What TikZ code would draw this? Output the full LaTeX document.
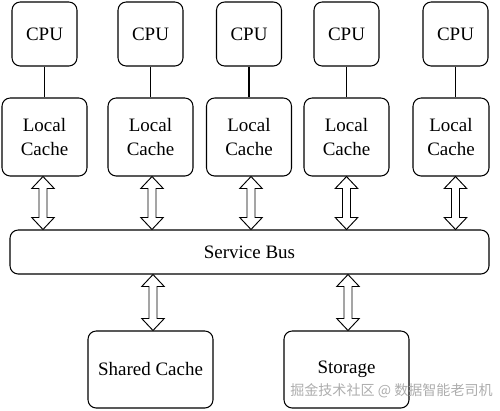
\documentclass[tikz,border=0pt]{standalone}
\usepackage{fontspec}
\setmainfont{Liberation Serif}
\newfontfamily\cjkfont{Noto Sans CJK SC}
\usetikzlibrary{positioning,calc}

\begin{document}
\begin{tikzpicture}[
    x=0.03cm, y=-0.03cm,
    box/.style={draw, line width=0.9pt, rounded corners=7pt, align=center,
                font=\rmfamily\fontsize{16.2}{19.8}\selectfont, inner sep=0pt},
    cpubox/.style={box, minimum width=65*0.03cm, minimum height=64*0.03cm},
    cachebox/.style={box, minimum width=85*0.03cm, minimum height=78*0.03cm},
    link/.style={line width=1pt},
    dblarrow/.style={line width=0.8pt, fill=white, to path={
        let \p1=(\tikztostart), \p2=(\tikztotarget) in
        (\x1,\y1) -- (\x1+9.6pt,\y1-10.2pt) -- (\x1+3.4pt,\y1-10.2pt)
        -- (\x1+3.4pt,\y2+10.2pt) -- (\x1+9.6pt,\y2+10.2pt) -- (\x1,\y2)
        -- (\x1-9.6pt,\y2+10.2pt) -- (\x1-3.4pt,\y2+10.2pt)
        -- (\x1-3.4pt,\y1-10.2pt) -- (\x1-9.6pt,\y1-10.2pt) -- cycle}},
]
\useasboundingbox (0,0) rectangle (500,410);

% CPUs
\node[cpubox] (cpu1) at (44.5,34) {CPU};
\node[cpubox] (cpu2) at (150.5,34) {CPU};
\node[cpubox] (cpu3) at (249,34) {CPU};
\node[cpubox] (cpu4) at (346.5,34) {CPU};
\node[cpubox] (cpu5) at (455.5,34) {CPU};

% Local caches
\node[cachebox] (lc1) at (44.5,137) {Local\\Cache};
\node[cachebox] (lc2) at (150.5,137) {Local\\Cache};
\node[cachebox] (lc3) at (249,137) {Local\\Cache};
\node[cachebox] (lc4) at (346.5,137) {Local\\Cache};
\node[cachebox, minimum width=76*0.03cm] (lc5) at (451,137) {Local\\Cache};

% Bus and shared resources
\node[box, minimum width=479*0.03cm, minimum height=44*0.03cm] (bus) at (249.5,252) {Service Bus};
\node[box, minimum width=125*0.03cm, minimum height=77*0.03cm] (shared) at (150.5,369.5) {Shared Cache};
\node[box, minimum width=125*0.03cm, minimum height=77*0.03cm] (storage) at (346.5,369.5) {Storage};

% CPU -- cache links
\draw[link] (cpu1.south) -- (cpu1.south |- lc1.north);
\draw[link] (cpu2.south) -- (cpu2.south |- lc2.north);
\draw[link] (cpu3.south) -- (cpu3.south |- lc3.north);
\draw[link] (cpu4.south) -- (cpu4.south |- lc4.north);
\draw[link] (cpu5.south) -- (cpu5.south |- lc5.north);

% Cache <-> bus
\draw[dblarrow] ($(cpu1.south |- lc1.south)+(-1.5,0)$) to ($(cpu1.south |- bus.north)+(-1.5,0)$);
\draw[dblarrow] ($(cpu2.south |- lc2.south)+(1.5,0)$) to ($(cpu2.south |- bus.north)+(1.5,0)$);
\draw[dblarrow] ($(cpu3.south |- lc3.south)+(2,0)$) to ($(cpu3.south |- bus.north)+(2,0)$);
\draw[dblarrow] (cpu4.south |- lc4.south) to (cpu4.south |- bus.north);
\draw[dblarrow] (cpu5.south |- lc5.south) to (cpu5.south |- bus.north);

% Bus <-> shared cache / storage
\coordinate (sharedtop) at ($(shared.north)+(2.5,0)$);
\coordinate (storagetop) at ($(storage.north)+(1.5,0)$);
\draw[dblarrow] (sharedtop |- bus.south) to (sharedtop);
\draw[dblarrow] (storagetop |- bus.south) to (storagetop);

% Watermark
\node[font=\cjkfont\fontsize{12}{14}\selectfont, text=black!32, inner sep=0pt] (wm) at (391.5,391) {掘金技术社区 @ 数据智能老司机};
\end{tikzpicture}
\end{document}
